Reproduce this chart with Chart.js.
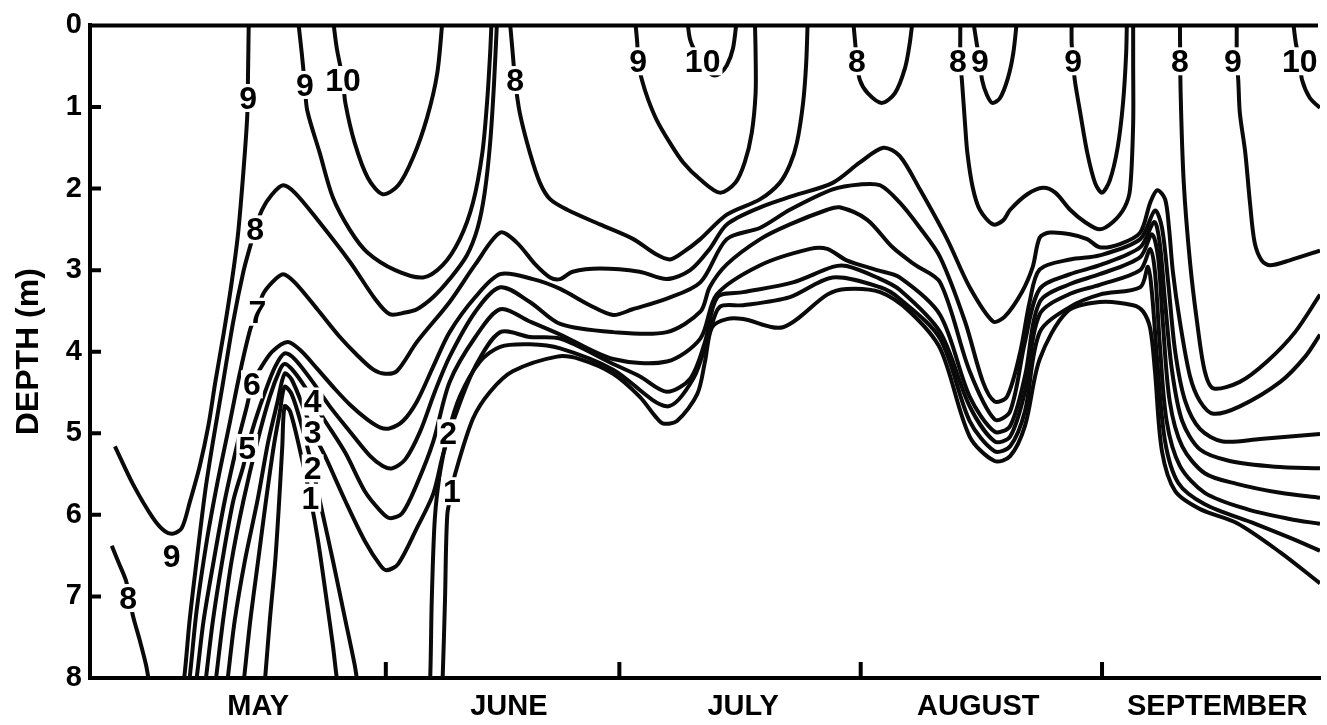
<!DOCTYPE html>
<html>
<head>
<meta charset="utf-8">
<script src="https://cdn.jsdelivr.net/npm/chart.js@4.4.1/dist/chart.umd.min.js"></script>
<style>
  html, body { margin: 0; padding: 0; background: #fff; }
  canvas { display: block; }
</style>
</head>
<body>
<canvas id="myChart" width="1327" height="725"></canvas>
<script>
// isotherm traces: [day of year, depth in m]
const iso10a = [[145.2,-0.09],[145.7,0.28],[146.5,0.67],[146.8,0.95],[148.0,1.44],[149.7,1.87],[151.6,2.07],[153.6,1.96],[155.5,1.62],[157.3,1.13],[158.6,0.59],[159.3,-0.09]];
const iso10b = [[190.7,-0.09],[191.1,0.18],[192.0,0.37],[193.0,0.52],[194.0,0.61],[194.9,0.59],[195.8,0.49],[196.6,0.28],[197.1,-0.09]];
const iso10c = [[268.5,-0.09],[268.9,0.22],[269.4,0.44],[269.7,0.67],[270.7,0.89],[272.0,1.01],[273.3,1.11]];

const iso9a = [[117.2,5.16],[119.5,5.62],[122.1,6.04],[123.6,6.20],[124.7,6.23],[125.8,6.16],[126.8,5.85],[128.1,5.40],[129.2,4.91],[130.1,4.37],[131.2,3.76],[132.2,3.15],[133.0,2.57],[133.7,1.80],[134.2,1.11],[134.3,0.59],[134.4,-0.09]];
const iso9b = [[140.7,-0.09],[141.2,0.34],[141.6,0.73],[141.9,1.04],[143.5,1.56],[145.2,2.11],[147.4,2.51],[149.6,2.78],[153.2,3.00],[156.8,3.09],[159.3,2.94],[161.5,2.62],[163.2,2.17],[164.4,1.56],[165.0,0.95],[165.4,0.34],[165.6,-0.09]];
const iso9c = [[184.0,-0.09],[184.3,0.22],[184.4,0.44],[184.9,0.67],[185.7,0.91],[186.8,1.16],[188.5,1.44],[190.2,1.68],[192.4,1.89],[194.9,2.05],[196.9,1.93],[198.1,1.68],[199.0,1.32],[199.5,0.83],[199.5,0.34],[199.4,-0.09]];
const iso9d = [[227.4,-0.09],[227.9,0.22],[228.3,0.44],[228.6,0.67],[229.2,0.85],[229.9,0.95],[230.9,0.89],[231.9,0.65],[232.6,0.34],[233.1,-0.09]];
const iso9e = [[240.1,-0.09],[240.1,0.22],[240.3,0.44],[240.5,0.67],[241.2,1.07],[242.1,1.56],[243.1,1.93],[244.0,2.05],[245.0,1.90],[246.0,1.50],[246.7,0.95],[247.1,0.34],[247.2,-0.09]];
const iso9f = [[261.3,-0.09],[261.3,0.22],[261.3,0.44],[261.5,0.67],[261.7,1.07],[262.4,1.56],[263.0,2.17],[263.6,2.66],[264.5,2.88],[265.6,2.94],[268.1,2.88],[272.0,2.76]];

const iso8bl = [[116.8,6.38],[117.7,6.59],[118.6,6.80],[119.1,7.01],[119.5,7.23],[120.4,7.54],[121.2,7.84],[121.5,8.0],[121.7,8.09]];
const iso8a = [[125.8,8.09],[126.1,8.0],[126.8,7.29],[127.7,6.56],[128.8,5.71],[129.8,5.10],[131.0,4.43],[132.4,3.63],[133.7,3.02],[134.6,2.70],[135.2,2.50],[136.1,2.26],[137.4,2.07],[138.8,1.96],[140.3,2.05],[143.2,2.38],[147.4,2.90],[150.6,3.35],[152.5,3.54],[154.5,3.52],[156.0,3.48],[158.1,3.33],[160.2,3.11],[162.4,2.82],[163.8,2.48],[164.7,2.05],[165.4,1.44],[165.9,0.71],[166.3,-0.09]];
const iso8b = [[167.9,-0.09],[168.3,0.34],[168.6,0.67],[169.2,1.07],[170.5,1.56],[171.8,1.93],[173.1,2.13],[175.3,2.26],[179.5,2.44],[183.8,2.62],[186.6,2.80],[188.5,2.87],[190.2,2.78],[192.4,2.62],[195.8,2.32],[200.1,2.13],[202.6,1.93],[203.9,1.71],[204.8,1.44],[205.6,0.95],[206.0,0.46],[206.2,-0.09]];
const iso8c = [[212.0,-0.09],[212.3,0.22],[212.5,0.44],[212.9,0.67],[213.9,0.83],[215.7,0.95],[217.4,0.83],[218.7,0.52],[219.3,0.22],[219.7,-0.09]];
const iso8d = [[225.8,-0.09],[225.8,0.44],[226.0,0.67],[226.4,1.20],[226.7,1.56],[227.4,1.99],[228.3,2.26],[230.0,2.44],[231.3,2.39],[232.2,2.26],[234.4,2.07],[236.4,1.99],[238.0,2.05],[239.9,2.26],[241.8,2.41],[243.7,2.50],[245.4,2.41],[246.9,2.23],[247.6,2.01],[248.0,1.20],[248.0,0.46],[248.0,-0.09]];
const iso8s = [[254.0,-0.09],[254.1,0.83],[254.5,1.93],[255.3,2.90],[256.2,3.63],[257.2,4.24],[258.3,4.45],[261.7,4.37],[265.2,4.12],[268.8,3.76],[272.0,3.30]];

const iso7 = [[126.6,8.09],[126.8,8.0],[127.7,7.17],[129.0,6.32],[130.4,5.59],[132.0,4.85],[133.3,4.24],[134.6,3.72],[135.5,3.51],[136.2,3.30],[137.4,3.15],[138.8,3.05],[140.3,3.15],[143.2,3.48],[146.1,3.82],[148.3,4.04],[150.4,4.22],[151.9,4.27],[153.4,4.24],[156.0,3.88],[160.2,3.39],[163.5,2.93],[166.7,2.54],[168.8,2.66],[171.2,2.93],[173.1,3.09],[174.4,3.11],[176.0,3.02],[179.5,2.98],[184.6,3.02],[188.1,3.11],[191.1,3.00],[193.6,2.74],[195.8,2.44],[200.1,2.23],[204.3,2.09],[209.4,1.93],[212.9,1.68],[215.9,1.50],[218.0,1.60],[220.6,2.01],[224.1,2.62],[227.0,3.21],[230.0,3.63],[231.5,3.57],[233.7,3.27],[235.1,2.96],[236.0,2.60],[237.3,2.54],[239.9,2.56],[242.1,2.62],[243.7,2.72],[246.3,2.68],[248.9,2.54],[250.2,2.17],[251.1,2.02],[252.1,2.13],[252.6,2.48],[253.1,3.02],[254.0,3.63],[255.3,4.30],[256.6,4.61],[258.3,4.76],[261.7,4.67],[266.9,4.37],[270.1,4.06],[272.0,3.79]];
const iso6 = [[127.5,8.09],[127.7,8.0],[128.6,7.29],[129.9,6.56],[131.3,5.83],[133.0,5.10],[134.2,4.65],[134.8,4.40],[135.8,4.22],[137.4,4.00],[139.4,3.88],[141.0,3.98],[143.2,4.21],[145.5,4.46],[147.4,4.65],[149.6,4.83],[151.3,4.93],[152.5,4.94],[154.2,4.85],[156.0,4.61],[158.1,4.18],[160.2,3.76],[163.5,3.33],[166.7,3.05],[170.9,3.11],[174.4,3.23],[178.2,3.43],[181.2,3.55],[183.7,3.48],[188.1,3.35],[192.4,3.15],[195.8,2.62],[200.1,2.48],[203.9,2.26],[209.4,2.01],[212.9,1.95],[215.5,1.96],[218.0,2.17],[220.6,2.48],[223.2,2.84],[226.4,3.63],[228.7,4.37],[230.2,4.61],[231.8,4.55],[233.5,4.00],[234.7,3.39],[236.0,2.99],[239.9,2.87],[243.7,2.82],[248.9,2.62],[250.8,2.27],[251.7,2.48],[252.5,3.15],[253.4,4.00],[254.7,4.61],[256.6,4.95],[259.5,5.10],[264.3,5.07],[272.0,5.01]];
const iso5 = [[128.8,8.09],[128.9,8.0],[129.8,7.29],[131.0,6.56],[132.4,5.83],[133.7,5.40],[134.2,5.18],[135.2,4.85],[136.5,4.49],[137.8,4.18],[139.0,4.02],[140.3,4.09],[142.6,4.37],[144.8,4.67],[147.4,4.98],[150.0,5.28],[151.6,5.40],[152.8,5.43],[154.5,5.32],[156.4,4.98],[158.3,4.49],[160.2,4.06],[163.5,3.51],[166.7,3.21],[170.5,3.39],[174.4,3.66],[181.2,3.76],[188.1,3.76],[192.4,3.51],[193.6,3.21],[195.8,2.93],[200.1,2.62],[203.9,2.44],[208.7,2.26],[210.3,2.23],[213.8,2.38],[217.1,2.72],[219.9,2.93],[223.2,3.15],[227.0,4.24],[230.2,4.83],[232.2,4.73],[234.1,3.88],[236.0,3.23],[239.9,3.05],[243.7,2.94],[248.9,2.72],[250.7,2.41],[251.4,2.66],[252.1,3.39],[253.0,4.24],[254.3,4.85],[256.6,5.20],[260.4,5.34],[266.2,5.41],[272.0,5.43]];
const iso4 = [[130.1,8.09],[130.2,8.0],[131.1,7.29],[132.2,6.56],[133.7,5.83],[135.5,5.10],[137.1,4.55],[138.4,4.22],[139.0,4.15],[139.9,4.21],[141.6,4.43],[142.6,4.61],[144.2,4.85],[146.8,5.24],[149.3,5.71],[151.3,5.95],[152.5,6.04],[154.1,5.98],[156.0,5.62],[158.1,5.10],[160.2,4.37],[163.5,3.82],[166.7,3.48],[170.5,3.63],[174.4,3.79],[181.2,4.09],[188.1,4.12],[192.4,3.84],[194.5,3.30],[200.1,2.94],[206.5,2.74],[208.7,2.74],[211.2,2.88],[215.1,3.00],[218.0,3.09],[223.2,3.55],[227.0,4.55],[230.2,4.98],[232.2,4.91],[234.1,4.30],[236.0,3.39],[239.9,3.17],[243.7,3.05],[248.9,2.84],[250.4,2.56],[251.2,2.84],[251.8,3.63],[252.7,4.61],[254.3,5.16],[257.2,5.49],[261.3,5.62],[266.9,5.73],[272.0,5.79]];
const iso3 = [[131.6,8.09],[131.7,8.0],[132.6,7.29],[133.9,6.56],[135.5,5.83],[136.9,5.10],[138.1,4.61],[139.0,4.27],[139.9,4.34],[141.6,4.73],[142.6,4.98],[144.2,5.28],[146.8,5.83],[149.3,6.32],[151.3,6.62],[152.1,6.68],[153.6,6.60],[156.0,6.16],[158.1,5.74],[159.3,5.28],[160.9,4.79],[163.5,4.18],[166.7,3.76],[170.5,3.82],[174.4,3.84],[181.2,4.15],[184.6,4.30],[188.1,4.49],[191.1,4.33],[193.0,3.88],[194.6,3.33],[197.9,3.27],[204.3,3.15],[209.4,2.96],[211.2,2.95],[215.1,3.09],[218.0,3.24],[223.2,3.76],[227.0,4.67],[230.2,5.10],[232.2,5.04],[234.1,4.49],[236.0,3.54],[239.9,3.29],[243.7,3.18],[248.9,3.00],[250.2,2.74],[250.8,3.02],[251.4,3.88],[252.3,4.85],[254.0,5.40],[257.2,5.73],[262.6,5.93],[268.1,6.05],[272.0,6.11]];
const iso2a = [[133.7,8.09],[133.8,8.0],[134.6,7.29],[135.6,6.56],[136.6,5.83],[137.6,5.16],[138.4,4.73],[139.0,4.43],[139.9,4.52],[141.2,4.91],[142.6,5.43],[143.8,5.95],[145.2,6.56],[146.8,7.29],[148.0,7.84],[148.4,8.09]];
const iso2b = [[157.5,8.09],[157.7,8.0],[157.9,7.05],[158.3,6.04],[159.0,5.46],[160.0,5.00],[161.5,4.55],[164.1,4.12],[166.7,3.94],[170.5,3.91],[174.4,3.96],[181.2,4.22],[188.1,4.67],[191.5,4.33],[193.6,3.76],[194.9,3.45],[197.9,3.43],[203.9,3.33],[209.4,3.09],[215.5,3.21],[218.0,3.35],[223.2,3.84],[227.0,4.85],[230.2,5.22],[232.2,5.16],[234.1,4.73],[236.0,3.76],[239.9,3.45],[243.7,3.30],[248.9,3.21],[249.9,2.96],[250.4,3.27],[251.1,4.12],[252.1,5.10],[253.8,5.61],[257.2,5.87],[263.7,6.11],[268.1,6.28],[272.0,6.44]];
const iso1a = [[136.4,8.09],[136.5,8.0],[137.1,7.29],[137.8,6.56],[138.3,5.83],[138.7,5.16],[139.0,4.67],[139.7,4.73],[141.0,5.22],[142.3,5.79],[143.3,6.32],[144.4,7.05],[145.2,7.60],[145.7,8.0],[145.9,8.09]];
const iso1b = [[159.2,8.09],[159.3,8.0],[159.6,7.05],[159.9,5.99],[160.5,5.71],[160.9,5.50],[163.2,4.82],[165.4,4.49],[168.3,4.24],[174.0,4.06],[176.9,4.09],[181.2,4.27],[184.6,4.55],[186.6,4.79],[187.6,4.88],[189.4,4.85],[192.0,4.52],[193.0,4.12],[193.9,3.70],[195.8,3.60],[197.9,3.60],[203.0,3.70],[208.7,3.30],[211.2,3.23],[215.5,3.27],[219.3,3.51],[223.2,3.96],[227.0,5.04],[230.2,5.34],[232.2,5.28],[234.1,4.91],[236.0,4.09],[239.5,3.51],[243.7,3.39],[248.0,3.43],[249.3,3.51],[250.2,3.72],[250.8,4.24],[251.7,5.22],[253.4,5.71],[256.6,5.93],[261.3,6.10],[266.9,6.46],[272.0,6.84]];

const contours = [iso10a, iso10b, iso10c, iso9a, iso9b, iso9c, iso9d, iso9e, iso9f,
  iso8bl, iso8a, iso8b, iso8c, iso8d, iso8s, iso7, iso6, iso5, iso4, iso3, iso2a, iso2b, iso1a, iso1b];

// contour labels
const labelText  = ['9','9','10','8','7','6','5','4','3','2','1','9','8','2','1','8','9','10','8','8','9','9','8','9','10'];
const labelDay   = [134.3,141.6,146.5,135.2,135.5,134.8,134.2,142.6,142.6,142.6,142.3,124.5,118.9,160.0,160.5,168.6,184.4,192.7,212.5,225.5,228.3,240.3,254.0,260.8,269.4];
const labelDepth = [0.89,0.73,0.67,2.50,3.51,4.40,5.18,4.61,4.98,5.43,5.79,6.50,7.02,5.00,5.71,0.67,0.44,0.44,0.44,0.44,0.44,0.44,0.44,0.44,0.44];

// axes
const monthNames = ['MAY','JUNE','JULY','AUGUST','SEPTEMBER'];
const monthMid   = [135.6, 167.8, 197.9, 228.1, 258.8];
const monthStart = [152, 182, 213, 244];
const depthTicks = [1, 2, 3, 4, 5, 6, 7];

const FONT = '"Liberation Sans", Arial, sans-serif';

const frame = {
  id: 'frame',
  afterDatasetsDraw(chart) {
    const ctx = chart.ctx, a = chart.chartArea;
    const xs = chart.scales.x, ys = chart.scales.y;
    ctx.save();
    ctx.strokeStyle = '#000';
    ctx.lineWidth = 4;
    ctx.beginPath();
    ctx.moveTo(a.left - 2, a.top);
    ctx.lineTo(a.right - 2, a.top);
    depthTicks.forEach(d => {
      const y = ys.getPixelForValue(d);
      ctx.moveTo(a.left, y);
      ctx.lineTo(a.left + 11, y);
    });
    monthStart.forEach(v => {
      const x = xs.getPixelForValue(v);
      ctx.moveTo(x, a.bottom);
      ctx.lineTo(x, a.bottom - 16);
    });
    ctx.stroke();

    ctx.font = 'bold 32px ' + FONT;
    ctx.textAlign = 'center';
    ctx.textBaseline = 'alphabetic';
    labelText.forEach((t, i) => {
      const x = xs.getPixelForValue(labelDay[i]);
      const y = ys.getPixelForValue(labelDepth[i]);
      const w = ctx.measureText(t).width;
      ctx.fillStyle = '#fff';
      ctx.fillRect(x - w / 2 - 2, y - 14, w + 4, 28);
      ctx.fillStyle = '#000';
      ctx.fillText(t, x, y + 11);
    });
    ctx.restore();
  }
};

const datasets = contours.map(c => ({
  data: c,
  showLine: true,
  borderColor: '#0a0a0a',
  borderWidth: 4,
  pointRadius: 0,
  tension: 0.3,
  fill: false
}));

new Chart(document.getElementById('myChart'), {
  type: 'scatter',
  data: { datasets: datasets },
  options: {
    responsive: false,
    animation: false,
    events: [],
    layout: { padding: { top: 22, right: 7, left: 0, bottom: 0 } },
    plugins: { legend: { display: false }, tooltip: { enabled: false } },
    scales: {
      x: {
        type: 'linear',
        min: 114,
        max: 272,
        grid: { display: false, drawTicks: false },
        border: { display: true, color: '#000', width: 4 },
        afterBuildTicks: s => { s.ticks = monthMid.map(v => ({ value: v })); },
        afterFit: s => { s.height = 47; },
        ticks: {
          autoSkip: false,
          maxRotation: 0,
          padding: 12,
          color: '#000',
          font: { family: FONT, size: 29, weight: 'bold' },
          callback: (v, i) => monthNames[i]
        }
      },
      y: {
        type: 'linear',
        min: 0,
        max: 8,
        reverse: true,
        grid: { display: false, drawTicks: false },
        border: { display: true, color: '#000', width: 4 },
        afterFit: s => { s.width = 90; },
        ticks: {
          stepSize: 1,
          padding: 8,
          color: '#000',
          font: { family: FONT, size: 29, weight: 'bold' }
        },
        title: {
          display: true,
          text: 'DEPTH (m)',
          color: '#000',
          padding: { top: 10, bottom: 0 },
          font: { family: FONT, size: 32, weight: 'bold' }
        }
      }
    }
  },
  plugins: [frame]
});
</script>
</body>
</html>
